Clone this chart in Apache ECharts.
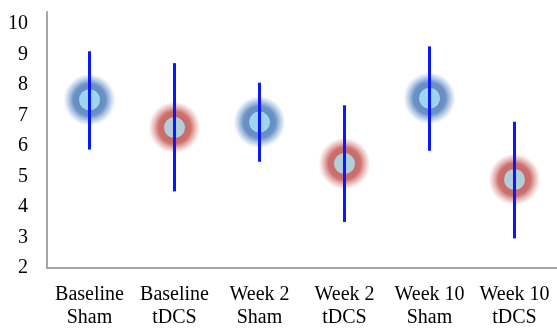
<!DOCTYPE html>
<html>
<head>
<meta charset="utf-8">
<script src="https://cdn.jsdelivr.net/npm/echarts@6/dist/echarts.min.js"></script>
<style>
html, body { margin: 0; padding: 0; background: #fff; overflow: hidden; }
#chart { width: 557px; height: 329px; }
</style>
</head>
<body>
<div id="chart"></div>
<script>
var categories = ['Baseline\nSham', 'Baseline\ntDCS', 'Week 2\nSham', 'Week 2\ntDCS', 'Week 10\nSham', 'Week 10\ntDCS'];
var groups = ['Sham', 'tDCS', 'Sham', 'tDCS', 'Sham', 'tDCS'];
var means = [7.51, 6.60, 6.78, 5.42, 7.56, 4.90];
var lower = [5.88, 4.51, 5.48, 3.51, 5.84, 2.97];
var upper = [9.10, 8.71, 8.07, 7.33, 9.26, 6.79];

var glowColors = {
    Sham: ['#2f64a8', '#4677b8', 'rgba(100,150,210,0)'],
    tDCS: ['#b03835', '#bf4d4a', 'rgba(215,120,115,0)']
};

function glow(g) {
    var c = glowColors[g];
    return {
        type: 'radial', x: 0.5, y: 0.5, r: 0.5,
        colorStops: [
            {offset: 0, color: c[0]},
            {offset: 0.62, color: c[1]},
            {offset: 1, color: c[2]}
        ]
    };
}

var serif = '"Liberation Serif", "Times New Roman", "DejaVu Serif", serif';

var myChart = echarts.init(document.getElementById('chart'));
var option = {
    animation: false,
    grid: {left: 47, right: -4, top: 12, bottom: 56},
    xAxis: {
        type: 'category',
        data: categories,
        axisLine: {lineStyle: {color: '#a6a6a6', width: 2}},
        axisTick: {show: false},
        axisLabel: {
            interval: 0,
            color: '#000',
            fontFamily: serif,
            fontSize: 20,
            lineHeight: 23,
            margin: 15
        }
    },
    yAxis: {
        type: 'value',
        min: 2,
        max: 10.386,
        interval: 1,
        splitLine: {show: false},
        axisTick: {show: false},
        axisLine: {show: true, lineStyle: {color: '#a6a6a6', width: 2}},
        axisLabel: {
            showMaxLabel: false,
            color: '#000',
            fontFamily: serif,
            fontSize: 20,
            margin: 19,
            formatter: function (v) { return Number.isInteger(v) ? v : ''; }
        }
    },
    series: [
        {
            name: 'glow',
            type: 'scatter',
            z: 1,
            symbolSize: 52,
            silent: true,
            data: means.map(function (v, i) {
                return {value: [i, v], itemStyle: {color: glow(groups[i])}};
            })
        },
        {
            name: 'mean',
            type: 'scatter',
            z: 2,
            symbolSize: 21,
            itemStyle: {color: '#aee8fa'},
            data: means.map(function (v, i) { return [i, v]; })
        },
        {
            name: 'error',
            type: 'custom',
            z: 3,
            data: lower.map(function (v, i) { return [i, v, upper[i]]; }),
            renderItem: function (params, api) {
                var lo = api.coord([api.value(0), api.value(1)]);
                var hi = api.coord([api.value(0), api.value(2)]);
                return {
                    type: 'line',
                    shape: {x1: lo[0], y1: lo[1], x2: hi[0], y2: hi[1]},
                    style: {stroke: '#0a18ff', lineWidth: 3}
                };
            }
        }
    ]
};
myChart.setOption(option);
</script>
</body>
</html>
